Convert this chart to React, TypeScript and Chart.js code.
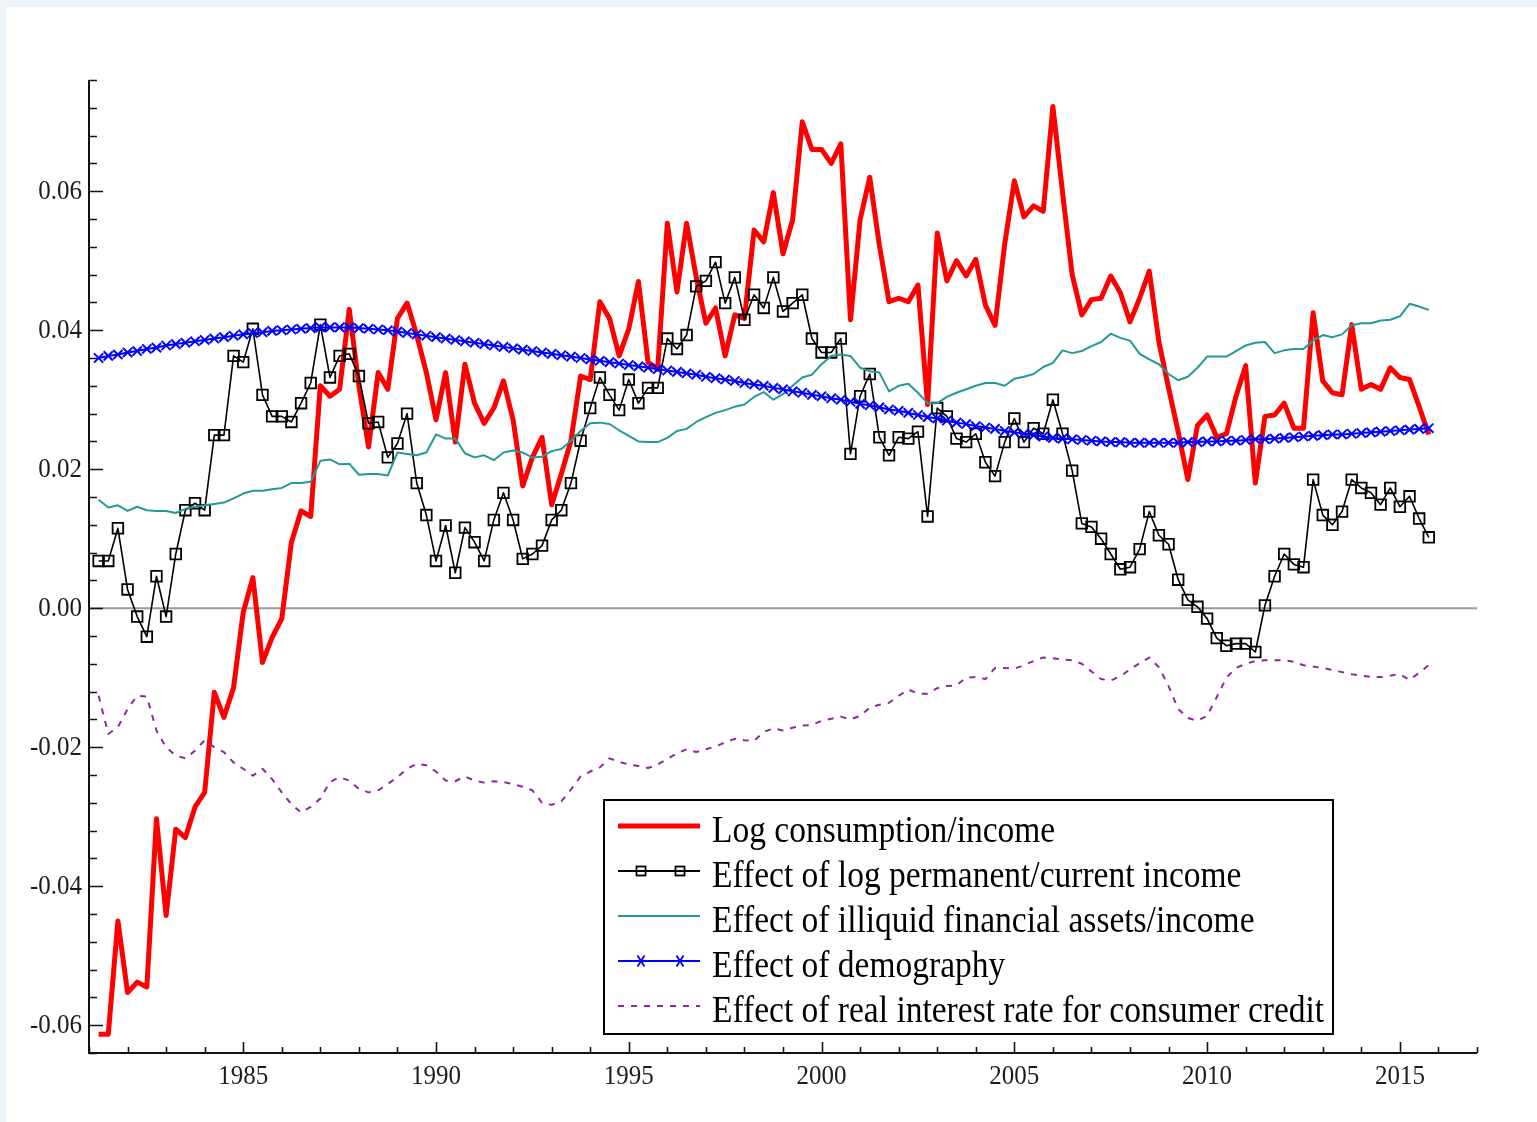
import React, { useEffect, useRef } from "react";
import { Chart, registerables } from "chart.js";

Chart.register(...registerables);

// Quarterly observations, 1981Q2 .. 2015Q4 (139 quarters)
const FIRST_QUARTER = 1981.25;
const QUARTER_STEP = 0.25;

const logConsumptionIncome = [
  -0.0613, -0.0613, -0.045, -0.0553, -0.0538, -0.0545, -0.0303, -0.0442, -0.0318, -0.033,
  -0.0286, -0.0265, -0.0121, -0.0157, -0.0114, -0.0006, 0.0044, -0.0078, -0.0042, -0.0015,
  0.0095, 0.014, 0.0132, 0.032, 0.0305, 0.0315, 0.043, 0.032, 0.0232, 0.0339,
  0.0315, 0.0417, 0.0439, 0.0393, 0.0339, 0.0271, 0.0339, 0.0239, 0.0351, 0.0295,
  0.0266, 0.0288, 0.0327, 0.0271, 0.0176, 0.0217, 0.0246, 0.0149, 0.0193, 0.0241,
  0.0334, 0.0329, 0.0441, 0.0417, 0.0363, 0.0402, 0.047, 0.0354, 0.0344, 0.0554,
  0.0455, 0.0554, 0.0476, 0.041, 0.0432, 0.0363, 0.0422, 0.0417, 0.0544, 0.0527,
  0.0598, 0.051, 0.0559, 0.07, 0.066, 0.066, 0.064, 0.0668, 0.0415, 0.0559,
  0.062, 0.0522, 0.0441, 0.0446, 0.0441, 0.0465, 0.0293, 0.054, 0.0471, 0.05,
  0.0478, 0.0502, 0.0436, 0.0407, 0.0524, 0.0615, 0.0563, 0.0579, 0.0571, 0.0722,
  0.0598, 0.048, 0.0422, 0.0444, 0.0446, 0.0478, 0.0454, 0.0412, 0.0446, 0.0485,
  0.0383, 0.0317, 0.0254, 0.0185, 0.0263, 0.0278, 0.0246, 0.0251, 0.0305, 0.0349,
  0.018, 0.0276, 0.0278, 0.0295, 0.0259, 0.0259, 0.0425, 0.0327, 0.031, 0.0307,
  0.0408, 0.0315, 0.0322, 0.0315, 0.0346, 0.0332, 0.0329, 0.029, 0.025,
];

const permanentIncomeEffect = [
  0.0068, 0.0068, 0.0115, 0.0027, -0.0012, -0.0041, 0.0046, -0.0012, 0.0078, 0.0141,
  0.0151, 0.0141, 0.0249, 0.0249, 0.0363, 0.0354, 0.0402, 0.0307, 0.0276, 0.0276,
  0.0268, 0.0295, 0.0324, 0.0408, 0.0332, 0.0363, 0.0366, 0.0334, 0.0266, 0.0268,
  0.0217, 0.0237, 0.028, 0.018, 0.0134, 0.0068, 0.0119, 0.0051, 0.0116, 0.0095,
  0.0068, 0.0127, 0.0166, 0.0127, 0.0071, 0.0078, 0.009, 0.0127, 0.0141, 0.018,
  0.0241, 0.0288, 0.0332, 0.0307, 0.0285, 0.0329, 0.0295, 0.0317, 0.0317, 0.0388,
  0.0373, 0.0393, 0.0463, 0.0471, 0.0498, 0.0439, 0.0476, 0.0415, 0.0451, 0.0432,
  0.0476, 0.0427, 0.0439, 0.0451, 0.0388, 0.0368, 0.0368, 0.0388, 0.0222, 0.0305,
  0.0337, 0.0246, 0.022, 0.0246, 0.0244, 0.0254, 0.0132, 0.0288, 0.0276, 0.0244,
  0.0239, 0.0251, 0.021, 0.019, 0.0239, 0.0273, 0.0239, 0.0259, 0.0251, 0.03,
  0.0251, 0.0198, 0.0122, 0.0117, 0.01, 0.0078, 0.0056, 0.0059, 0.0085, 0.0139,
  0.0105, 0.0092, 0.0041, 0.0012, 0.0002, -0.0015, -0.0043, -0.0054, -0.0051, -0.0051,
  -0.0063, 0.0004, 0.0046, 0.0078, 0.0063, 0.0059, 0.0185, 0.0134, 0.012, 0.0139,
  0.0185, 0.0173, 0.0166, 0.0149, 0.0173, 0.0146, 0.0161, 0.0129, 0.0102,
];

const illiquidAssetsEffect = [
  0.0156, 0.0145, 0.0148, 0.014, 0.0146, 0.0141, 0.014, 0.014, 0.0137, 0.0143,
  0.0146, 0.0148, 0.015, 0.0152, 0.0158, 0.0165, 0.0169, 0.0169, 0.0171, 0.0173,
  0.018, 0.018, 0.0182, 0.0212, 0.0214, 0.0207, 0.0208, 0.0192, 0.0193, 0.0193,
  0.0191, 0.0224, 0.0222, 0.022, 0.0224, 0.025, 0.0244, 0.0244, 0.0223, 0.0217,
  0.022, 0.0213, 0.0224, 0.0227, 0.0224, 0.0217, 0.0218, 0.0226, 0.0229, 0.0241,
  0.0255, 0.0266, 0.0267, 0.0265, 0.0256, 0.0248, 0.024, 0.0239, 0.0239, 0.0245,
  0.0255, 0.0258, 0.0268, 0.0275, 0.0281, 0.0285, 0.029, 0.0293, 0.0304, 0.0311,
  0.03, 0.0308, 0.032, 0.0332, 0.0336, 0.0351, 0.0363, 0.0365, 0.0363, 0.0346,
  0.0341, 0.0339, 0.0312, 0.032, 0.0323, 0.031, 0.0295, 0.0295, 0.0304, 0.031,
  0.0315, 0.032, 0.0324, 0.0324, 0.032, 0.033, 0.0333, 0.0337, 0.0347, 0.0353,
  0.0371, 0.0367, 0.037, 0.0377, 0.0383, 0.0395, 0.0389, 0.0385, 0.0366, 0.0358,
  0.0351, 0.0337, 0.0328, 0.0333, 0.0346, 0.0362, 0.0362, 0.0362, 0.037, 0.0378,
  0.0382, 0.0383, 0.0367, 0.0371, 0.0373, 0.0373, 0.0385, 0.0393, 0.039, 0.0394,
  0.0407, 0.041, 0.041, 0.0414, 0.0415, 0.042, 0.0438, 0.0434, 0.0429,
];

const demographyEffect = [
  0.036, 0.0363, 0.0365, 0.0368, 0.037, 0.0373, 0.0375, 0.0378, 0.038, 0.0382,
  0.0384, 0.0386, 0.0388, 0.039, 0.0392, 0.0394, 0.0396, 0.0397, 0.0399, 0.04,
  0.0401, 0.0402, 0.0403, 0.0404, 0.0404, 0.0404, 0.0404, 0.0403, 0.0402, 0.0401,
  0.04, 0.0398, 0.0396, 0.0394, 0.0392, 0.039, 0.0388, 0.0386, 0.0384, 0.0382,
  0.038, 0.0378, 0.0376, 0.0374, 0.0372, 0.037, 0.0368, 0.0366, 0.0364, 0.0362,
  0.036, 0.0358, 0.0356, 0.0354, 0.0352, 0.035, 0.0348, 0.0346, 0.0344, 0.0342,
  0.034, 0.0338, 0.0336, 0.0333, 0.0331, 0.0329, 0.0327, 0.0324, 0.0322, 0.032,
  0.0317, 0.0315, 0.0312, 0.031, 0.0307, 0.0305, 0.0302, 0.03, 0.0297, 0.0294,
  0.0292, 0.0289, 0.0286, 0.0284, 0.0281, 0.0278, 0.0275, 0.0273, 0.027, 0.0267,
  0.0265, 0.0262, 0.026, 0.0258, 0.0255, 0.0253, 0.0251, 0.0249, 0.0247, 0.0245,
  0.0244, 0.0243, 0.0242, 0.0241, 0.024, 0.0239, 0.0239, 0.0238, 0.0238, 0.0238,
  0.0238, 0.0238, 0.0238, 0.0239, 0.0239, 0.024, 0.024, 0.0241, 0.0241, 0.0242,
  0.0243, 0.0243, 0.0244, 0.0245, 0.0246, 0.0247, 0.0248, 0.0249, 0.025, 0.025,
  0.0251, 0.0252, 0.0253, 0.0254, 0.0255, 0.0256, 0.0257, 0.0258, 0.0259,
];

const realInterestEffect = [
  -0.0126, -0.0181, -0.0171, -0.0145, -0.0126, -0.0127, -0.0176, -0.02, -0.0212, -0.0216,
  -0.0205, -0.019, -0.02, -0.0207, -0.0222, -0.0231, -0.0241, -0.0231, -0.0246, -0.0265,
  -0.0282, -0.0294, -0.0286, -0.0274, -0.025, -0.0243, -0.0248, -0.026, -0.0265, -0.0262,
  -0.0253, -0.0243, -0.0231, -0.0224, -0.0226, -0.0235, -0.0248, -0.0249, -0.0242, -0.0248,
  -0.0251, -0.0249, -0.025, -0.0253, -0.0257, -0.0262, -0.028, -0.0283, -0.0278, -0.0261,
  -0.0242, -0.0235, -0.0229, -0.0216, -0.0221, -0.0225, -0.0227, -0.023, -0.0225, -0.0217,
  -0.0209, -0.0203, -0.0207, -0.0203, -0.0199, -0.0193, -0.0188, -0.019, -0.0191, -0.0178,
  -0.0173, -0.0176, -0.0172, -0.0169, -0.0168, -0.0162, -0.0159, -0.0156, -0.016, -0.0155,
  -0.0143, -0.0139, -0.0136, -0.0126, -0.0117, -0.0123, -0.0123, -0.0115, -0.0112, -0.0111,
  -0.01, -0.0099, -0.0102, -0.0086, -0.0086, -0.0087, -0.0082, -0.0076, -0.0071, -0.0072,
  -0.0074, -0.0075, -0.008, -0.0091, -0.0102, -0.0104, -0.0098, -0.0088, -0.0079, -0.0071,
  -0.0085, -0.0112, -0.0145, -0.0158, -0.0162, -0.0155, -0.0128, -0.01, -0.0086, -0.008,
  -0.0076, -0.0075, -0.0075, -0.0075, -0.0077, -0.0082, -0.0084, -0.0086, -0.0089, -0.0092,
  -0.0095, -0.0097, -0.0099, -0.0099, -0.0097, -0.0095, -0.0103, -0.0093, -0.0082,
];

const seriesLabels = [
  "Log consumption/income",
  "Effect of log permanent/current income",
  "Effect of illiquid financial assets/income",
  "Effect of demography",
  "Effect of real interest rate for consumer credit",
];

const X_MIN = 1981;
const X_MAX = 2017;
const Y_MIN = -0.064;
const Y_MAX = 0.076;
const xTickLabels = [1985, 1990, 1995, 2000, 2005, 2010, 2015];
const yTickLabels = [-0.06, -0.04, -0.02, 0, 0.02, 0.04, 0.06];

const COLORS = {
  red: "#ff0000",
  black: "#000000",
  teal: "#24999a",
  blue: "#0000ff",
  purple: "#8c2a9c",
};

const toPoints = (values: number[]) =>
  values.map((v, i) => ({ x: FIRST_QUARTER + i * QUARTER_STEP, y: v }));

function drawStretchedText(
  ctx: CanvasRenderingContext2D,
  text: string,
  x: number,
  y: number,
  align: CanvasTextAlign,
  baseline: CanvasTextBaseline,
  font: string,
  sx: number,
  sy: number,
  color: string
) {
  ctx.save();
  ctx.translate(x, y);
  ctx.scale(sx, sy);
  ctx.font = font;
  ctx.textAlign = align;
  ctx.textBaseline = baseline;
  ctx.fillStyle = color;
  ctx.fillText(text, 0, 0);
  ctx.restore();
}

const framePlugin = {
  id: "frame",
  beforeDatasetsDraw(chart: any) {
    const { ctx, chartArea: a, scales } = chart;
    const y0 = scales.y.getPixelForValue(0);
    ctx.save();
    ctx.strokeStyle = "#9a9a9a";
    ctx.lineWidth = 2;
    ctx.beginPath();
    ctx.moveTo(a.left, y0);
    ctx.lineTo(a.right, y0);
    ctx.stroke();
    ctx.restore();
  },
  afterDraw(chart: any) {
    const { ctx, chartArea: a, scales } = chart;
    const xs = scales.x;
    const ys = scales.y;
    ctx.save();

    // axis lines
    ctx.strokeStyle = "#111";
    ctx.lineWidth = 2;
    ctx.beginPath();
    ctx.moveTo(a.left, a.top);
    ctx.lineTo(a.left, a.bottom);
    ctx.lineTo(a.right, a.bottom);
    ctx.stroke();

    // inward tick marks on y: every 0.004, long at multiples of 0.02
    ctx.lineWidth = 1.6;
    ctx.beginPath();
    const nY = Math.round((Y_MAX - Y_MIN) / 0.004);
    for (let k = 0; k <= nY; k++) {
      const v = Y_MIN + k * 0.004;
      const r = v / 0.02;
      const major = Math.abs(r - Math.round(r)) < 1e-6;
      const py = Math.round(ys.getPixelForValue(v)) + 0.5;
      ctx.moveTo(a.left, py);
      ctx.lineTo(a.left + (major ? 14 : 8), py);
    }
    // inward tick marks on x: every year, long every five years
    for (let yr = X_MIN; yr <= X_MAX; yr++) {
      const px = Math.round(xs.getPixelForValue(yr)) + 0.5;
      const major = yr % 5 === 0;
      ctx.moveTo(px, a.bottom);
      ctx.lineTo(px, a.bottom - (major ? 11 : 6));
    }
    ctx.stroke();

    // tick labels
    const tickFont = "25px 'Liberation Serif'";
    yTickLabels.forEach((v) => {
      drawStretchedText(ctx, v.toFixed(2), a.left - 7, ys.getPixelForValue(v) + 1, "right", "middle", tickFont, 1, 1.08, "#1c1c1c");
    });
    xTickLabels.forEach((yr) => {
      drawStretchedText(ctx, String(yr), xs.getPixelForValue(yr), a.bottom + 24, "center", "middle", tickFont, 1, 1.1, "#1c1c1c");
    });

    // legend box
    const box = { left: 604, top: 800, right: 1333, bottom: 1034 };
    ctx.fillStyle = "#ffffff";
    ctx.fillRect(box.left, box.top, box.right - box.left, box.bottom - box.top);
    ctx.strokeStyle = "#000";
    ctx.lineWidth = 2;
    ctx.strokeRect(box.left, box.top, box.right - box.left, box.bottom - box.top);

    const sx0 = 618;
    const sx1 = 700;
    const mk = [641, 680];
    const legendFont = "34px 'Liberation Serif'";
    seriesLabels.forEach((label, k) => {
      const cy = 826 + k * 45;
      ctx.save();
      ctx.beginPath();
      if (k === 0) {
        ctx.strokeStyle = COLORS.red;
        ctx.lineWidth = 5;
      } else if (k === 1) {
        ctx.strokeStyle = COLORS.black;
        ctx.lineWidth = 1.8;
      } else if (k === 2) {
        ctx.strokeStyle = COLORS.teal;
        ctx.lineWidth = 2;
      } else if (k === 3) {
        ctx.strokeStyle = COLORS.blue;
        ctx.lineWidth = 2;
      } else {
        ctx.strokeStyle = COLORS.purple;
        ctx.lineWidth = 2;
        ctx.setLineDash([6, 7]);
      }
      ctx.moveTo(sx0, cy);
      ctx.lineTo(sx1, cy);
      ctx.stroke();
      ctx.setLineDash([]);
      if (k === 1) {
        ctx.lineWidth = 1.8;
        mk.forEach((mx) => ctx.strokeRect(mx - 4.5, cy - 4.5, 9, 9));
      }
      if (k === 3) {
        ctx.lineWidth = 1.8;
        ctx.beginPath();
        mk.forEach((mx) => {
          ctx.moveTo(mx - 3.5, cy - 5.5);
          ctx.lineTo(mx + 3.5, cy + 5.5);
          ctx.moveTo(mx + 3.5, cy - 5.5);
          ctx.lineTo(mx - 3.5, cy + 5.5);
        });
        ctx.stroke();
      }
      ctx.restore();
      drawStretchedText(ctx, label, 712, cy + 16, "left", "alphabetic", legendFont, 0.985, 1.1, "#000");
    });

    ctx.restore();
  },
};

export default function App() {
  const canvasRef = useRef<HTMLCanvasElement | null>(null);

  useEffect(() => {
    const canvas = canvasRef.current;
    if (!canvas) return;
    const chart = new Chart(canvas, {
      type: "line",
      data: {
        datasets: [
          {
            label: seriesLabels[0],
            data: toPoints(logConsumptionIncome),
            borderColor: COLORS.red,
            borderWidth: 5,
            borderJoinStyle: "round",
            pointRadius: 0,
            tension: 0,
            order: 5,
          },
          {
            label: seriesLabels[1],
            data: toPoints(permanentIncomeEffect),
            borderColor: COLORS.black,
            borderWidth: 1.6,
            borderJoinStyle: "round",
            pointStyle: "rect",
            pointRadius: 7.5,
            pointBorderWidth: 1.8,
            pointBorderColor: COLORS.black,
            pointBackgroundColor: "rgba(0,0,0,0)",
            tension: 0,
            order: 4,
          },
          {
            label: seriesLabels[2],
            data: toPoints(illiquidAssetsEffect),
            borderColor: COLORS.teal,
            borderWidth: 2,
            borderJoinStyle: "round",
            pointRadius: 0,
            tension: 0,
            order: 3,
          },
          {
            label: seriesLabels[3],
            data: toPoints(demographyEffect),
            borderColor: COLORS.blue,
            borderWidth: 2,
            pointStyle: "crossRot",
            pointRadius: 6.5,
            pointBorderWidth: 2,
            pointBorderColor: COLORS.blue,
            tension: 0,
            order: 2,
          },
          {
            label: seriesLabels[4],
            data: toPoints(realInterestEffect),
            borderColor: COLORS.purple,
            borderWidth: 2,
            borderDash: [6, 7],
            borderJoinStyle: "round",
            pointRadius: 0,
            tension: 0,
            order: 1,
          },
        ],
      },
      options: {
        responsive: false,
        maintainAspectRatio: false,
        devicePixelRatio: 1,
        animation: false,
        layout: { padding: { left: 89, top: 80, right: 60, bottom: 69 } },
        scales: {
          x: { type: "linear", min: X_MIN, max: X_MAX, display: false },
          y: { type: "linear", min: Y_MIN, max: Y_MAX, display: false },
        },
        plugins: {
          legend: { display: false },
          tooltip: { enabled: false },
        },
      },
      plugins: [framePlugin],
    });
    return () => chart.destroy();
  }, []);

  return (
    <div style={{ position: "fixed", left: 0, top: 0, width: 1537, height: 1122, background: "#ebf3f6", overflow: "hidden" }}>
      <div style={{ position: "absolute", left: 6, top: 7, right: 0, bottom: 0, background: "#ffffff" }} />
      <canvas
        ref={canvasRef}
        width={1537}
        height={1122}
        style={{ position: "absolute", left: 0, top: 0, width: 1537, height: 1122 }}
      />
    </div>
  );
}
